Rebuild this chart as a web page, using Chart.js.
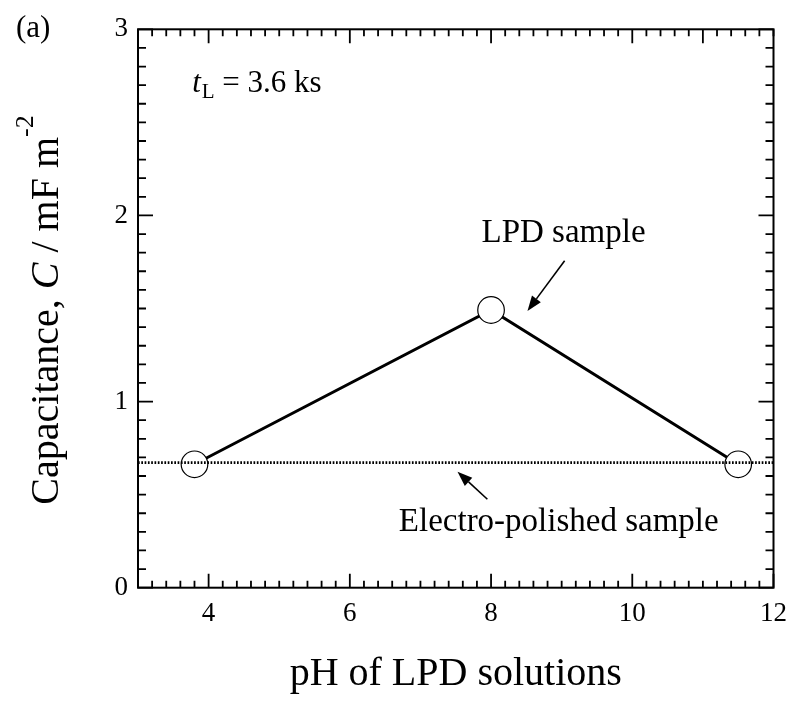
<!DOCTYPE html>
<html><head><meta charset="utf-8">
<script src="https://cdn.jsdelivr.net/npm/chart.js@4.4.0/dist/chart.umd.min.js"></script>
<style>html,body{margin:0;padding:0;background:#fff}#wrap{width:797px;height:713px;position:relative}</style>
</head><body><div id="wrap"><canvas id="c"></canvas></div>
<script>
// ---- data ----
const phValues = [3.8, 8.0, 11.5];
const capacitance = [0.663, 1.492, 0.663];
const electroPolishedLevel = 0.672;
const xRange = [3, 12];
const yRange = [0, 3];
const xTickLabels = [4, 6, 8, 10, 12];
const yTickLabels = [0, 1, 2, 3];
const xTopMajor = [4, 6, 8, 10, 11];

const SERIF = '"Liberation Serif", "Times New Roman", serif';

const lpdPoints = phValues.map((v, i) => ({x: v, y: capacitance[i]}));
const electroLine = xRange.map(v => ({x: v, y: electroPolishedLevel}));

const frame = {left: 138, top: 29.3, right: 776.7, bottom: 587.7};

const framePlugin = {
  id: 'frameTicks',
  afterDatasetsDraw(chart) {
    const {ctx, chartArea: a, scales: {x, y}} = chart;
    ctx.save();
    ctx.strokeStyle = '#000';
    ctx.lineWidth = 1.8;
    ctx.beginPath();
    const eps = 1e-6;
    for (let i = 0; i <= 45; i++) {
      const v = xRange[0] + i * 0.2;
      const px = x.getPixelForValue(v);
      const bMaj = xTickLabels.some(t => Math.abs(t - v) < eps);
      const tMaj = xTopMajor.some(t => Math.abs(t - v) < eps);
      ctx.moveTo(px, a.bottom); ctx.lineTo(px, a.bottom - (bMaj ? 14 : 7));
      ctx.moveTo(px, a.top); ctx.lineTo(px, a.top + (tMaj ? 14 : 7));
    }
    for (let i = 0; i <= 30; i++) {
      const v = yRange[0] + i * 0.1;
      const py = y.getPixelForValue(v);
      const maj = yTickLabels.some(t => Math.abs(t - v) < eps);
      ctx.moveTo(a.left, py); ctx.lineTo(a.left + (maj ? 15 : 8), py);
      ctx.moveTo(a.right, py); ctx.lineTo(a.right - (maj ? 15 : 8), py);
    }
    ctx.stroke();
    ctx.lineWidth = 2;
    ctx.strokeRect(a.left, a.top, a.right - a.left, a.bottom - a.top);
    ctx.restore();
  }
};

function arrow(ctx, x1, y1, x2, y2) {
  const ang = Math.atan2(y2 - y1, x2 - x1);
  const hl = 15, hw = 5.5;
  const bx = x2 - hl * Math.cos(ang), by = y2 - hl * Math.sin(ang);
  ctx.beginPath();
  ctx.moveTo(x1, y1); ctx.lineTo(bx, by);
  ctx.lineWidth = 1.6; ctx.stroke();
  ctx.beginPath();
  ctx.moveTo(x2, y2);
  ctx.lineTo(bx + hw * Math.sin(ang), by - hw * Math.cos(ang));
  ctx.lineTo(bx - hw * Math.sin(ang), by + hw * Math.cos(ang));
  ctx.closePath(); ctx.fill();
}

const annoPlugin = {
  id: 'annotations',
  afterDraw(chart) {
    const {ctx, scales: {x, y}} = chart;
    const X = v => x.getPixelForValue(v), Y = v => y.getPixelForValue(v);
    ctx.save();
    ctx.fillStyle = '#000'; ctx.strokeStyle = '#000';
    ctx.textBaseline = 'alphabetic';
    ctx.textAlign = 'left';

    // (a)
    ctx.font = '31px ' + SERIF;
    ctx.fillText('(a)', 16, 37);

    // t_L = 3.6 ks
    let tx = X(3.767), ty = Y(2.664);
    ctx.font = 'italic 31px ' + SERIF;
    ctx.fillText('t', tx, ty); tx += ctx.measureText('t').width + 1;
    ctx.font = '21px ' + SERIF;
    ctx.fillText('L', tx, ty + 6); tx += ctx.measureText('L').width;
    ctx.font = '31px ' + SERIF;
    ctx.fillText(' = 3.6 ks', tx, ty);

    // LPD sample
    ctx.font = '33px ' + SERIF;
    ctx.fillText('LPD sample', X(7.865), Y(1.858));
    arrow(ctx, X(9.042), Y(1.757), X(8.516), Y(1.487));

    // Electro-polished sample
    ctx.fillText('Electro-polished sample', X(6.694), Y(0.306));
    arrow(ctx, X(7.948), Y(0.475), X(7.525), Y(0.623));

    // Y axis title, rotated, with italic C and superscript
    ctx.translate(58, 310);
    ctx.rotate(-Math.PI / 2);
    const fN = '40px ' + SERIF, fI = 'italic 40px ' + SERIF, fS = '26px ' + SERIF;
    const parts = [['Capacitance, ', fN, 0], ['C', fI, 0], [' / mF m', fN, 0], ['-2', fS, -25]];
    let W = 0;
    parts.forEach(p => { ctx.font = p[1]; p.push(ctx.measureText(p[0]).width); W += p[3]; });
    let px = -W / 2;
    parts.forEach(p => { ctx.font = p[1]; ctx.fillText(p[0], px, p[2]); px += p[3]; });
    ctx.restore();
  }
};

new Chart(document.getElementById('c'), {
  type: 'scatter',
  data: {
    datasets: [
      {
        label: 'Electro-polished sample',
        data: electroLine,
        showLine: true,
        borderColor: '#000',
        borderWidth: 2.6,
        borderDash: [1.7, 1.6],
        pointRadius: 0,
        fill: false
      },
      {
        label: 'LPD sample',
        data: lpdPoints,
        showLine: true,
        borderColor: '#000',
        borderWidth: 3,
        pointRadius: 13.3,
        pointHoverRadius: 13.3,
        pointBackgroundColor: '#fff',
        pointBorderColor: '#000',
        pointBorderWidth: 1.2,
        fill: false
      }
    ]
  },
  options: {
    responsive: true,
    maintainAspectRatio: false,
    animation: false,
    devicePixelRatio: 1,
    layout: {padding: {left: 0, top: frame.top, right: 797 - frame.right, bottom: 0}},
    plugins: {legend: {display: false}, tooltip: {enabled: false}},
    scales: {
      x: {
        type: 'linear', min: xRange[0], max: xRange[1],
        afterBuildTicks: s => { s.ticks = xTickLabels.map(v => ({value: v})); },
        afterFit: s => { s.height = 713 - frame.bottom; },
        grid: {display: false, drawTicks: false},
        border: {display: false},
        ticks: {color: '#000', font: {family: SERIF, size: 27}, padding: 10, maxRotation: 0, autoSkip: false},
        title: {display: true, text: 'pH of LPD solutions', color: '#000',
                font: {family: SERIF, size: 40}, padding: {top: 0, bottom: 15}}
      },
      y: {
        type: 'linear', min: yRange[0], max: yRange[1],
        afterBuildTicks: s => { s.ticks = yTickLabels.map(v => ({value: v})); },
        afterFit: s => { s.width = frame.left; },
        grid: {display: false, drawTicks: false},
        border: {display: false},
        ticks: {color: '#000', font: {family: SERIF, size: 27}, padding: 10, autoSkip: false}
      }
    }
  },
  plugins: [framePlugin, annoPlugin]
});
</script>
</body></html>
